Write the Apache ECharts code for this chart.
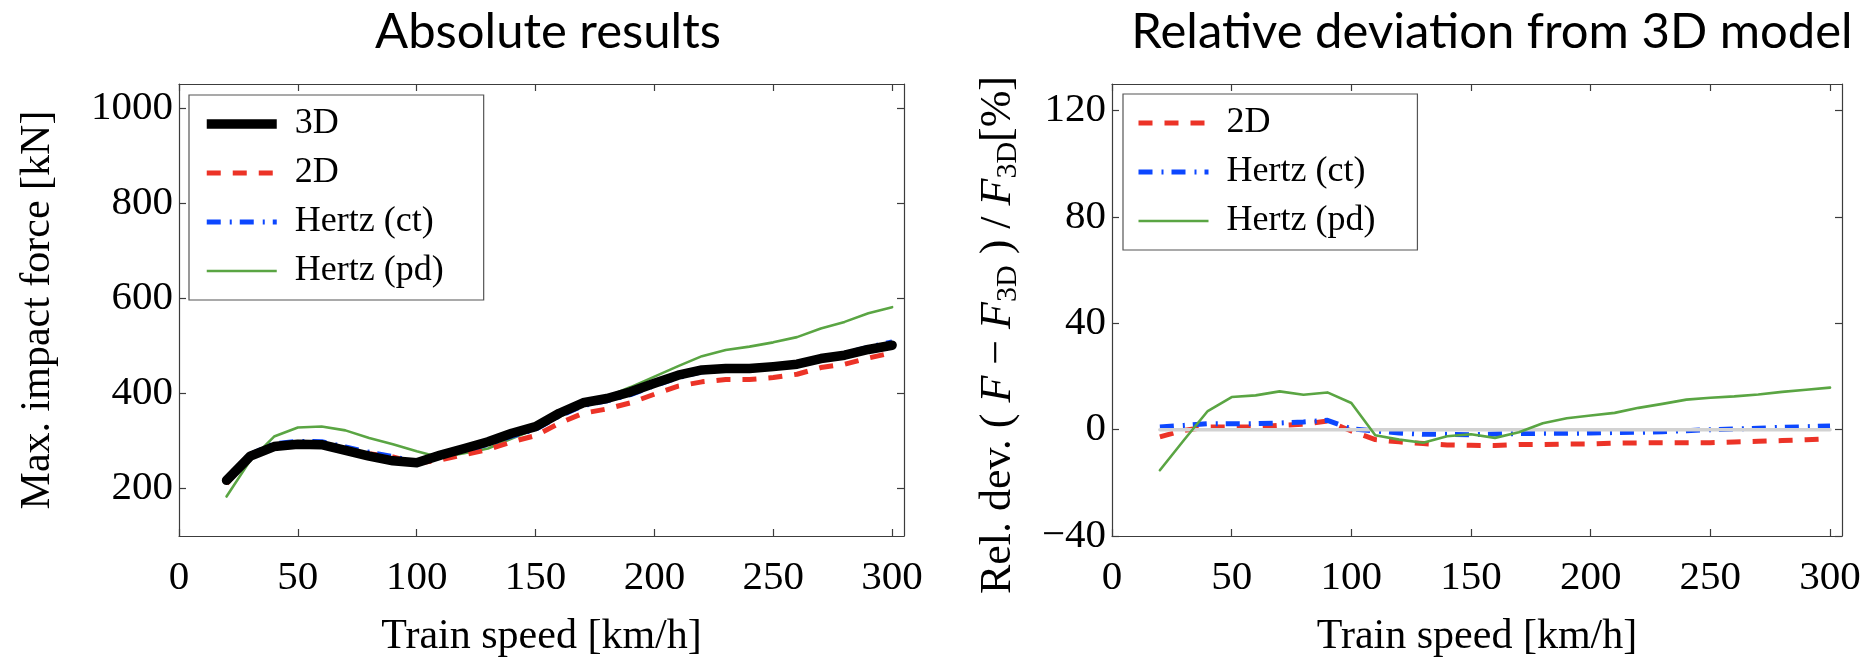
<!DOCTYPE html>
<html>
<head>
<meta charset="utf-8">
<script src="https://cdn.jsdelivr.net/npm/echarts@6/dist/echarts.min.js"></script>
<style>
  html, body { margin: 0; padding: 0; background: #ffffff; }
  #chart { width: 1874px; height: 664px; }
</style>
</head>
<body>
<div id="chart"></div>
<script>
// Train speeds [km/h]
const speeds = [20, 30, 40, 50, 60, 70, 80, 90, 100, 110, 120, 130, 140, 150, 160,
                170, 180, 190, 200, 210, 220, 230, 240, 250, 260, 270, 280, 290, 300];

// Maximum impact force [kN]
const force3D      = [217, 268, 288, 293, 292, 280, 268, 258, 254, 270, 284, 298, 316, 330, 358,
                      380, 389, 403, 421, 438, 449, 452, 452, 456, 461, 473, 480, 492, 501];
const force2D      = [210, 267, 291, 296, 295, 284, 273, 266, 253, 260, 271, 282, 298, 311, 337,
                      358, 367, 380, 398, 415, 424, 429, 429, 433, 440, 454, 461, 474, 485];
const forceHertzCt = [219, 272, 294, 299, 298, 287, 276, 267, 255, 269, 280, 293, 310, 324, 352,
                      374, 384, 397, 416, 433, 445, 449, 450, 456, 462, 475, 484, 497, 508];
const forceHertzPd = [183, 259, 309, 328, 330, 322, 306, 293, 278, 265, 274, 284, 305, 325, 350,
                      378, 393, 413, 435, 457, 478, 491, 498, 507, 518, 536, 550, 568, 581];

// Relative deviation from the 3D model [%]
const dev3D      = [0, 0, 0, 0, 0, 0, 0, 0, 0, 0, 0, 0, 0, 0, 0,
                    0, 0, 0, 0, 0, 0, 0, 0, 0, 0, 0, 0, 0, 0];
const dev2D      = [-2.75, -0.25, 1, 1, 1, 1.6, 2, 3.25, -0.5, -3.75, -4.6, -5.25, -5.75, -5.9, -6,
                    -5.6, -5.6, -5.4, -5.4, -5.1, -5, -4.9, -4.9, -4.9, -4.6, -4.4, -4.1, -3.8, -3.4];
const devHertzCt = [1, 1.6, 2.25, 2.25, 2.25, 2.5, 2.9, 3.5, 0.3, -0.5, -1.25, -1.75, -1.75, -1.9, -1.6,
                    -1.5, -1.4, -1.4, -1.25, -1.1, -1, -0.75, -0.4, 0, 0.25, 0.5, 0.9, 1.1, 1.4];
const devHertzPd = [-15.25, -4, 7, 12.25, 12.9, 14.4, 13.1, 14, 10, -2.1, -3.75, -4.9, -2.5, -1.75, -3.1,
                    -1, 2.4, 4.3, 5.3, 6.3, 8.2, 9.7, 11.3, 12, 12.5, 13.2, 14.2, 15, 15.8];

// Axis ticks
const speedTicks = [0, 50, 100, 150, 200, 250, 300];
const forceTicks = [200, 400, 600, 800, 1000];
const devTicks   = [-40, 0, 40, 80, 120];

const SERIF = '"Liberation Serif", "DejaVu Serif", serif';
const SANS = 'Lato, "Open Sans", "Noto Sans", sans-serif';
const AXIS_COLOR = '#3c3c3c';

const COLORS = {
  d3: '#000000',
  d2: '#ec3327',
  ct: '#0c47ff',
  pd: '#5aa543',
  zero: '#d2d2d2'
};

const WIDTHS = { d3: 9.5, d2: 5, ct: 5, pd: 2.6, zero: 3.5 };
const DASH = [14, 12];
const DASHDOT = [14, 9, 2, 8];

const pairs = (ys) => speeds.map((s, i) => [s, ys[i]]);

function frameAxis(extra) {
  return Object.assign({
    type: 'value',
    axisLine: { show: true, onZero: false, lineStyle: { color: AXIS_COLOR, width: 1.2 } },
    splitLine: { show: false },
    axisLabel: { show: false }
  }, extra);
}

function speedAxis(grid, pos, withLabels) {
  return frameAxis({
    gridIndex: grid, position: pos, min: 0, max: 305,
    axisTick: { show: true, inside: true, length: 7, customValues: speedTicks,
                lineStyle: { color: AXIS_COLOR, width: 1.2 } },
    axisLabel: withLabels ? {
      show: true, customValues: speedTicks, margin: 22,
      fontFamily: SERIF, fontSize: 41, color: '#000'
    } : { show: false },
    name: withLabels ? 'Train speed [km/h]' : '',
    nameLocation: 'middle', nameGap: 80,
    nameTextStyle: { fontFamily: SERIF, fontSize: 42, color: '#000' }
  });
}

function valueAxis(grid, pos, min, max, ticks, withLabels, name, gap) {
  return frameAxis({
    gridIndex: grid, position: pos, min: min, max: max,
    axisTick: { show: true, inside: true, length: 7, customValues: ticks,
                lineStyle: { color: AXIS_COLOR, width: 1.2 } },
    axisLabel: withLabels ? {
      show: true, customValues: ticks, margin: 6,
      fontFamily: SERIF, fontSize: 41, color: '#000',
      formatter: (v) => String(v).replace('-', '\u2212')
    } : { show: false },
    name: name || '',
    nameLocation: 'middle', nameGap: gap || 0,
    nameTextStyle: { fontFamily: SERIF, fontSize: 42, color: '#000' }
  });
}

function line(name, data, xi, yi, color, width, dash, z) {
  return {
    type: 'line', name: name, data: pairs(data),
    xAxisIndex: xi, yAxisIndex: yi,
    symbol: 'none', showSymbol: false, smooth: false,
    lineStyle: { color: color, width: width, type: dash || 'solid',
                 cap: dash ? 'butt' : 'round', join: 'round' },
    itemStyle: { color: color },
    z: z, animation: false
  };
}

// legend entries carry the full stroke width of their series, with flat ends
const legendItem = (name, key) => ({ name: name, lineStyle: { width: WIDTHS[key], cap: 'butt' } });
const legendAbs = [legendItem('3D', 'd3'), legendItem('2D', 'd2'),
                   legendItem('Hertz (ct)', 'ct'), legendItem('Hertz (pd)', 'pd')];
const legendRel = [legendItem('2D', 'd2'), legendItem('Hertz (ct)', 'ct'),
                   legendItem('Hertz (pd)', 'pd')];

const legendCommon = {
  orient: 'vertical',
  itemWidth: 70, itemHeight: 14, itemGap: 13,
  borderColor: '#555', borderWidth: 1.2, borderRadius: 0,
  backgroundColor: '#ffffff',
  selectedMode: false,
  itemStyle: { opacity: 0 },
  textStyle: { fontFamily: SERIF, fontSize: 36, color: '#000', padding: [0, 0, 0, 13] }
};

const option = {
  backgroundColor: '#ffffff',
  animation: false,
  title: [
    { text: 'Absolute results', left: 548, top: 8, textAlign: 'center', padding: 0,
      textStyle: { fontFamily: SANS, fontSize: 49, fontWeight: 'normal', color: '#000' } },
    { text: 'Relative deviation from 3D model', left: 1492, top: 8, textAlign: 'center', padding: 0,
      textStyle: { fontFamily: SANS, fontSize: 49, fontWeight: 'normal', color: '#000' } }
  ],
  grid: [
    { left: 179, top: 84, width: 725, height: 452, containLabel: false },
    { left: 1112, top: 84, width: 730, height: 452, containLabel: false }
  ],
  legend: [
    Object.assign({}, legendCommon, {
      data: legendAbs, left: 189, top: 95, padding: [11, 40, 11, 13]
    }),
    Object.assign({}, legendCommon, {
      data: legendRel, left: 1123, top: 94, padding: [11, 42, 11, 13]
    })
  ],
  xAxis: [
    speedAxis(0, 'bottom', true),
    speedAxis(0, 'top', false),
    speedAxis(1, 'bottom', true),
    speedAxis(1, 'top', false)
  ],
  yAxis: [
    valueAxis(0, 'left', 100, 1050, forceTicks, true, 'Max. impact force [kN]', 120),
    valueAxis(0, 'right', 100, 1050, forceTicks, false),
    valueAxis(1, 'left', -40, 130, devTicks, true),
    valueAxis(1, 'right', -40, 130, devTicks, false)
  ],
  graphic: [
    {
      type: 'text', x: 998, y: 335, rotation: Math.PI / 2, silent: true,
      style: {
        text: '{r|Rel. dev. ( }{i|F}{r| \u2212 }{i|F}{s|3D}{r| ) / }{i|F}{s|3D}{r|[%]}',
        align: 'center', verticalAlign: 'middle',
        rich: {
          r: { fontFamily: SERIF, fontSize: 44, lineHeight: 50, fill: '#000', verticalAlign: 'middle' },
          i: { fontFamily: SERIF, fontSize: 44, fontStyle: 'italic', lineHeight: 50, fill: '#000', verticalAlign: 'middle' },
          s: { fontFamily: SERIF, fontSize: 30, lineHeight: 30, fill: '#000', verticalAlign: 'bottom' }
        }
      }
    }
  ],
  series: [
    line('Hertz (pd)', forceHertzPd, 0, 0, COLORS.pd, WIDTHS.pd, null, 2),
    line('2D', force2D, 0, 0, COLORS.d2, WIDTHS.d2, DASH, 3),
    line('Hertz (ct)', forceHertzCt, 0, 0, COLORS.ct, WIDTHS.ct, DASHDOT, 4),
    line('3D', force3D, 0, 0, COLORS.d3, WIDTHS.d3, null, 5),

    line('2D', dev2D, 2, 2, COLORS.d2, WIDTHS.d2, DASH, 2),
    line('Hertz (ct)', devHertzCt, 2, 2, COLORS.ct, WIDTHS.ct, DASHDOT, 3),
    line('3D (reference)', dev3D, 2, 2, COLORS.zero, WIDTHS.zero, null, 4),
    line('Hertz (pd)', devHertzPd, 2, 2, COLORS.pd, WIDTHS.pd, null, 5)
  ]
};

const chart = echarts.init(document.getElementById('chart'), null, { renderer: 'canvas' });
chart.setOption(option);
</script>
</body>
</html>
